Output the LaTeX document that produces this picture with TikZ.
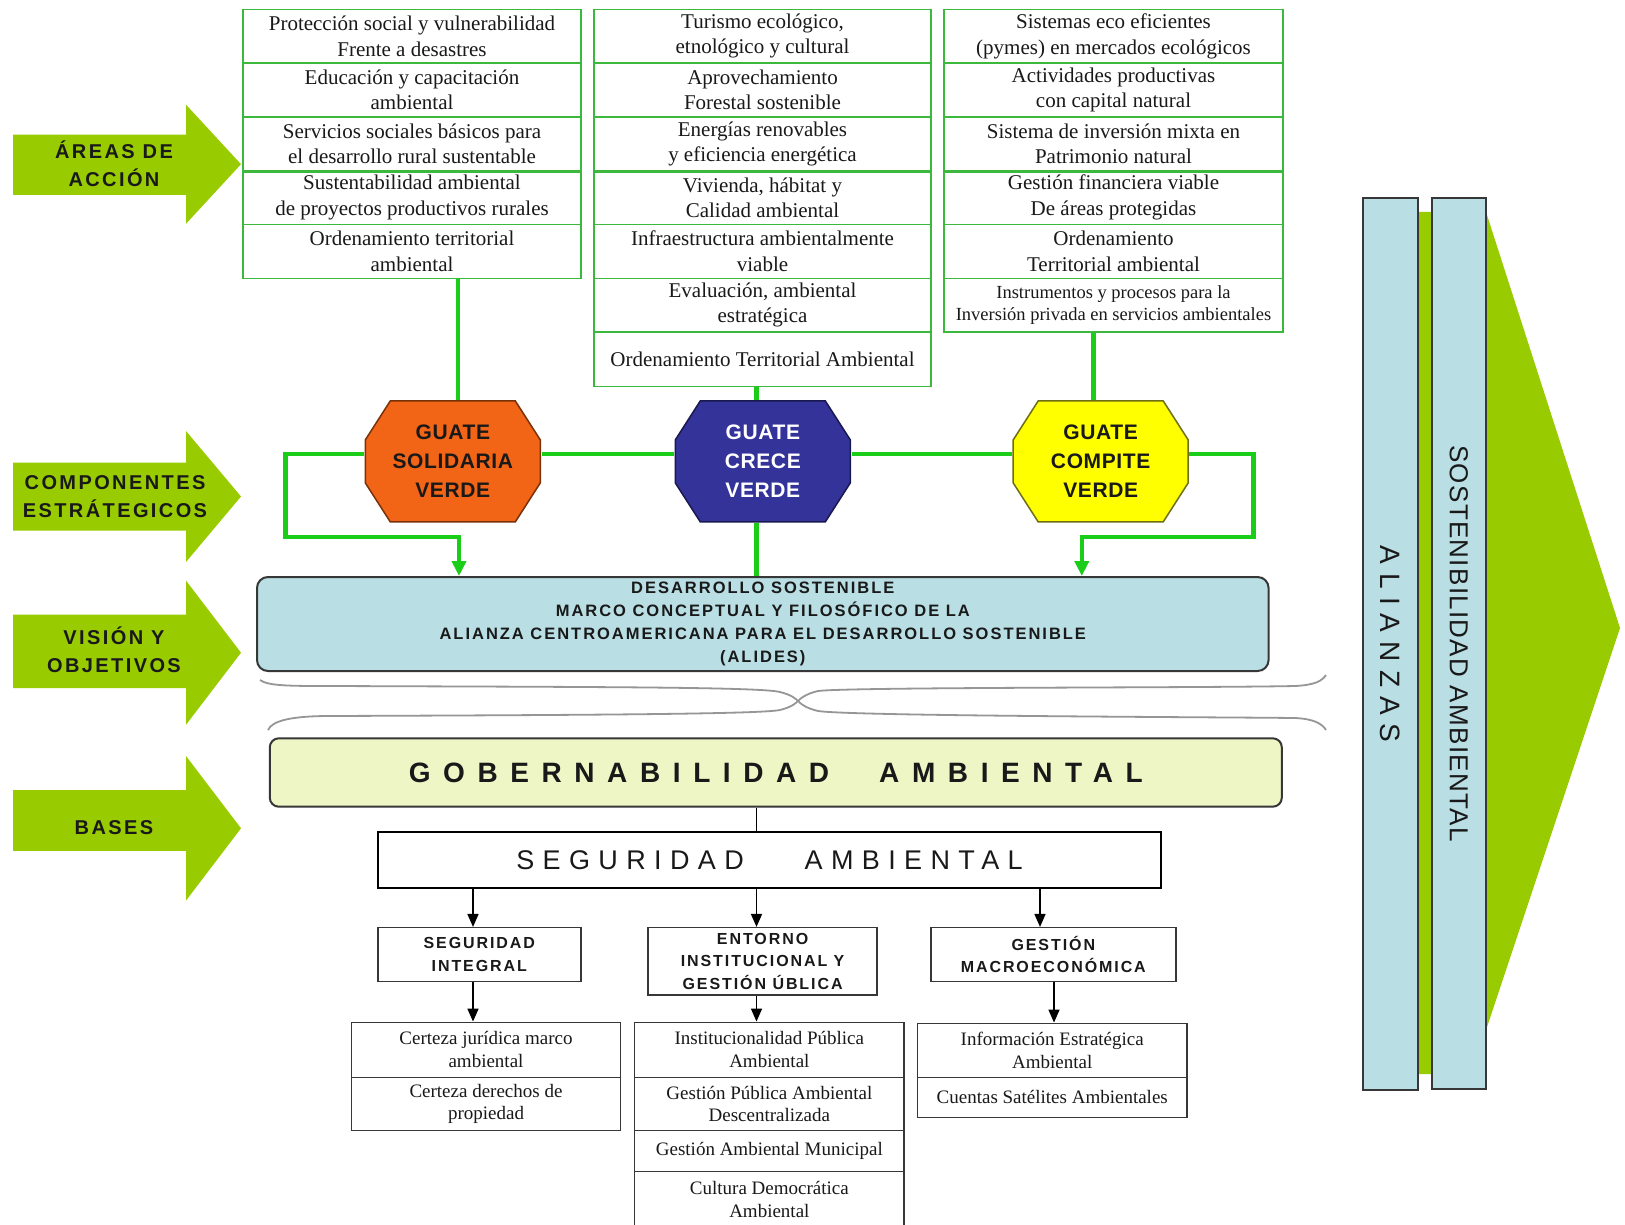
\documentclass[tikz,border=0pt]{standalone}
\usepackage{fontspec}
\setmainfont{Liberation Serif}
\newfontfamily\lsA{Liberation Sans}[LetterSpace=12]
\newfontfamily\lsOct{Liberation Sans}[LetterSpace=3]
\newfontfamily\lsGob{Liberation Sans}[LetterSpace=45]
\newfontfamily\lsSeg{Liberation Sans}[LetterSpace=31]
\newfontfamily\lsAli{Liberation Sans}[LetterSpace=31]
\newfontfamily\lsSos{Liberation Sans}[LetterSpace=5]
\usetikzlibrary{arrows.meta}
\definecolor{limeA}{RGB}{153,204,0}
\definecolor{tgreen}{RGB}{60,185,60}
\definecolor{cgreen}{RGB}{25,205,25}
\definecolor{orangeO}{RGB}{242,100,22}
\definecolor{orangeB}{RGB}{120,50,10}
\definecolor{blueO}{RGB}{51,51,153}
\definecolor{blueB}{RGB}{25,25,80}
\definecolor{yellowO}{RGB}{255,255,0}
\definecolor{yellowB}{RGB}{110,110,20}
\definecolor{lblue}{RGB}{185,222,228}
\definecolor{gobfill}{RGB}{238,246,198}
\definecolor{bord}{RGB}{55,55,55}
\definecolor{txt}{RGB}{25,25,25}
\definecolor{braceC}{RGB}{150,150,150}
\tikzset{
  toprow/.style={draw=tgreen, line width=1.5pt, minimum height=53.8pt, inner sep=0pt,
    align=center, text=txt, font=\fontsize{21}{25.5}\selectfont},
  lstrow/.style={draw=bord, line width=1.5pt, minimum width=269.4pt, inner sep=0pt,
    align=center, text=txt, font=\fontsize{19}{22.7}\selectfont},
  subbox/.style={draw=bord, line width=1.5pt, inner sep=0pt, align=center, text=txt,
    font=\lsA\bfseries\fontsize{16}{22.5}\selectfont},
  arrtext/.style={align=center, text=txt, font=\lsA\bfseries\fontsize{20}{28}\selectfont},
  octo/.style n args={3}{rectangle, minimum width=177pt, minimum height=123pt, inner sep=0pt,
    align=center, text=#3, font=\lsOct\bfseries\fontsize{21}{29}\selectfont,
    path picture={
      \filldraw[fill=#1, draw=#2, line width=1.5pt]
        ([xshift=26pt,yshift=-1pt]path picture bounding box.north west) --
        ([xshift=-26pt,yshift=-1pt]path picture bounding box.north east) --
        ([xshift=-1pt,yshift=-40pt]path picture bounding box.north east) --
        ([xshift=-1pt,yshift=40pt]path picture bounding box.south east) --
        ([xshift=-26pt,yshift=1pt]path picture bounding box.south east) --
        ([xshift=26pt,yshift=1pt]path picture bounding box.south west) --
        ([xshift=1pt,yshift=40pt]path picture bounding box.south west) --
        ([xshift=1pt,yshift=-40pt]path picture bounding box.north west) -- cycle;}},
  gline/.style={draw=cgreen, line width=4.5pt},
  gtip/.style={-{Triangle[length=15pt,width=14pt]}},
  blk/.style={draw=black, line width=1.6pt, -{Triangle[length=13pt,width=11pt]}},
  bracel/.style={draw=braceC, line width=1.8pt},
  vbox/.style={draw=bord, line width=1.8pt, fill=lblue, rotate=-90, inner sep=0pt, text=txt}
}
\begin{document}
\begin{tikzpicture}[x=1pt, y=-1pt]
\useasboundingbox (0,0) rectangle (1625,1225);
\clip (0,0) rectangle (1625,1225);
\fill[white] (0,0) rectangle (1625,1225);

% left lime arrows
\fill[limeA] (13,134.6) -- (186,134.6) -- (186,104.7) -- (241,164.2) -- (186,223.8) -- (186,194.9) -- (13,194.9) -- cycle;
\fill[limeA] (13,462.5) -- (186,462.5) -- (186,431) -- (241,496.5) -- (186,562) -- (186,530.7) -- (13,530.7) -- cycle;
\fill[limeA] (13,614.7) -- (186,614.7) -- (186,580.6) -- (241,652.7) -- (186,724.8) -- (186,688) -- (13,688) -- cycle;
\fill[limeA] (13,790) -- (186,790) -- (186,756) -- (241,828.3) -- (186,900.6) -- (186,850.8) -- (13,850.8) -- cycle;
\node[arrtext] (t1) at (114,164) {ÁREAS DE\\ACCIÓN};
\node[arrtext] (t2) at (115,497) {COMPONENTES\\ESTRÁTEGICOS};
\node[arrtext] (t3) at (114,650) {VISIÓN Y\\OBJETIVOS};
\node[arrtext] (t4) at (114,828) {BASES};

% right big lime arrow
\fill[limeA] (1395,212) -- (1486,212) -- (1620,628) -- (1486,1030) -- (1486,1074) -- (1395,1074) -- cycle;
\node[vbox, minimum width=892pt, minimum height=55.6pt, font=\lsAli\fontsize{28}{30}\selectfont] (ali) at (1390.5,644) {ALIANZAS};
\node[vbox, minimum width=891pt, minimum height=54pt, font=\lsSos\fontsize{26}{28}\selectfont] (sos) at (1458.7,643.5) {SOSTENIBILIDAD AMBIENTAL};

% column 1
\node[toprow, minimum width=338pt] (c1r1) at (412,36.2) {Protección social y vulnerabilidad\\Frente a desastres};
\node[toprow, minimum width=338pt] (c1r2) at (412,90) {Educación y capacitación\\ambiental};
\node[toprow, minimum width=338pt] (c1r3) at (412,143.8) {Servicios sociales básicos para\\el desarrollo rural sustentable};
\node[toprow, minimum width=338pt] (c1r4) at (412,197.6) {Sustentabilidad ambiental\\de proyectos productivos rurales};
\node[toprow, minimum width=338pt] (c1r5) at (412,251.4) {Ordenamiento territorial\\ambiental};
% column 2
\node[toprow, minimum width=337pt] (c2r1) at (762.5,36.2) {Turismo ecológico,\\etnológico y cultural};
\node[toprow, minimum width=337pt] (c2r2) at (762.5,90) {Aprovechamiento\\Forestal sostenible};
\node[toprow, minimum width=337pt] (c2r3) at (762.5,143.8) {Energías renovables\\y eficiencia energética};
\node[toprow, minimum width=337pt] (c2r4) at (762.5,197.6) {Vivienda, hábitat y\\Calidad ambiental};
\node[toprow, minimum width=337pt] (c2r5) at (762.5,251.4) {Infraestructura ambientalmente\\viable};
\node[toprow, minimum width=337pt] (c2r6) at (762.5,305.2) {Evaluación, ambiental\\estratégica};
\node[toprow, minimum width=337pt] (c2r7) at (762.5,359.4) {Ordenamiento Territorial Ambiental};
% column 3
\node[toprow, minimum width=339pt] (c3r1) at (1113.5,36.2) {Sistemas eco eficientes\\(pymes) en mercados ecológicos};
\node[toprow, minimum width=339pt] (c3r2) at (1113.5,90) {Actividades productivas\\con capital natural};
\node[toprow, minimum width=339pt] (c3r3) at (1113.5,143.8) {Sistema de inversión mixta en\\Patrimonio natural};
\node[toprow, minimum width=339pt] (c3r4) at (1113.5,197.6) {Gestión financiera viable\\De áreas protegidas};
\node[toprow, minimum width=339pt] (c3r5) at (1113.5,251.4) {Ordenamiento\\Territorial ambiental};
\node[toprow, minimum width=339pt, font=\fontsize{18.5}{21.5}\selectfont] (c3r6) at (1113.5,305.2) {Instrumentos y procesos para la\\Inversión privada en servicios ambientales};
\draw[tgreen, line width=3pt] (c1r3.south west) -- (c1r3.south east);
\draw[tgreen, line width=3pt] (c2r3.south west) -- (c2r3.south east);
\draw[tgreen, line width=3pt] (c3r3.south west) -- (c3r3.south east);

% octagons
\node[octo={orangeO}{orangeB}{txt}] (orange) at (452.8,461.4) {GUATE\\SOLIDARIA\\VERDE};
\node[octo={blueO}{blueB}{white}] (blue) at (762.8,461.4) {GUATE\\CRECE\\VERDE};
\node[octo={yellowO}{yellowB}{txt}] (yellow) at (1100.7,461.4) {GUATE\\COMPITE\\VERDE};

% desarrollo box
\node[draw=bord, line width=2pt, fill=lblue, rounded corners=11pt, minimum width=1011.6pt,
      minimum height=94pt, inner sep=0pt, align=center, text=txt,
      font=\lsA\bfseries\fontsize{16.5}{23}\selectfont] (dev) at (762.8,624)
  {DESARROLLO SOSTENIBLE\\MARCO CONCEPTUAL Y FILOSÓFICO DE LA\\ALIANZA CENTROAMERICANA PARA EL DESARROLLO SOSTENIBLE\\(ALIDES)};

% green connectors
\coordinate (g1) at (458,0);
\coordinate (xb) at (756.5,0);
\coordinate (g3) at (1093.3,0);
\coordinate (hl) at (0,454);
\coordinate (Lc) at (285.6,537);
\coordinate (Rc) at (1253.7,537);
\coordinate (aL) at (459,0);
\coordinate (aR) at (1081.8,0);
\draw[gline] (c1r5.south -| g1) -- (orange.north -| g1);
\draw[gline] (c2r7.south -| xb) -- (blue.north -| xb);
\draw[gline] (c3r6.south -| g3) -- (yellow.north -| g3);
\draw[gline] (orange.east |- hl) -- (blue.west |- hl);
\draw[gline] (blue.east |- hl) -- (yellow.west |- hl);
\draw[gline] (blue.south -| xb) -- (dev.north -| xb);
\draw[gline, gtip] (orange.west |- hl) -| (Lc) -| (dev.north -| aL);
\draw[gline, gtip] (yellow.east |- hl) -| (Rc) -| (dev.north -| aR);

% braces
\draw[bracel] (260,680) .. controls (268,686) and (290,686) .. (330,686)
  .. controls (600,687) and (760,687) .. (780,692) .. controls (792,695) and (796,699) .. (798,701)
  .. controls (800,699) and (805,694) .. (818,691) .. controls (850,687) and (1200,688) .. (1295,686)
  .. controls (1315,685) and (1322,681) .. (1326,675);
\draw[bracel] (268,730) .. controls (272,721) and (290,716) .. (330,716)
  .. controls (600,715) and (760,714) .. (780,710) .. controls (792,707) and (796,703) .. (798,701)
  .. controls (800,703) and (805,708) .. (818,711) .. controls (850,716) and (1200,717) .. (1295,718)
  .. controls (1315,719) and (1322,724) .. (1326,730);

% gobernabilidad
\node[draw=bord, line width=2pt, fill=gobfill, rounded corners=9pt, minimum width=1012pt,
      minimum height=68.4pt, inner sep=0pt, text=txt,
      font=\lsGob\bfseries\fontsize{28}{30}\selectfont] (gob) at (775.8,772.5)
  {GOBERNABILIDAD\hspace{50pt}AMBIENTAL};

% seguridad
\node[draw=black, line width=1.5pt, minimum width=783pt, minimum height=56pt, inner sep=0pt,
      text=txt, font=\lsSeg\fontsize{27}{29}\selectfont] (seg) at (769.5,860)
  {SEGURIDAD\hspace{61pt}AMBIENTAL};
\draw[black, line width=1.6pt] (gob.south -| xb) -- (seg.north -| xb);

% sub boxes
\node[subbox, minimum width=203pt, minimum height=54pt] (sub1) at (479.3,954.7) {SEGURIDAD\\INTEGRAL};
\node[subbox, minimum width=229pt, minimum height=67.3pt] (sub2) at (762.6,961.3) {ENTORNO\\INSTITUCIONAL Y\\GESTIÓN ÚBLICA};
\node[subbox, minimum width=245pt, minimum height=54pt] (sub3) at (1053.3,954.7) {GESTIÓN\\MACROECONÓMICA};

% lists
\node[lstrow, minimum height=55pt] (l1a) at (486,1049.8) {Certeza jurídica marco\\ambiental};
\node[lstrow, minimum height=53.4pt] (l1b) at (486,1104) {Certeza derechos de\\propiedad};
\node[lstrow, minimum height=55pt] (l2a) at (769.35,1049.8) {Institucionalidad Pública\\Ambiental};
\node[lstrow, minimum height=53.4pt] (l2b) at (769.35,1104) {Gestión Pública Ambiental\\Descentralizada};
\node[lstrow, minimum height=41pt] (l2c) at (769.35,1151.2) {Gestión Ambiental Municipal};
\node[lstrow, minimum height=56pt] (l2d) at (769.35,1199.7) {Cultura Democrática\\Ambiental};
\node[lstrow, minimum height=54pt] (l3a) at (1052.25,1050.3) {Información Estratégica\\Ambiental};
\node[lstrow, minimum height=40pt] (l3b) at (1052.25,1097.3) {Cuentas Satélites Ambientales};

% black arrows
\coordinate (xa) at (473,0);
\coordinate (xc) at (1040,0);
\coordinate (xd) at (1054,0);
\draw[blk] (seg.south -| xa) -- (sub1.north -| xa);
\draw[blk] (seg.south -| xb) -- (sub2.north -| xb);
\draw[blk] (seg.south -| xc) -- (sub3.north -| xc);
\draw[blk] (sub1.south -| xa) -- (l1a.north -| xa);
\draw[blk] (sub2.south -| xb) -- (l2a.north -| xb);
\draw[blk] (sub3.south -| xd) -- (l3a.north -| xd);
\end{tikzpicture}
\end{document}
